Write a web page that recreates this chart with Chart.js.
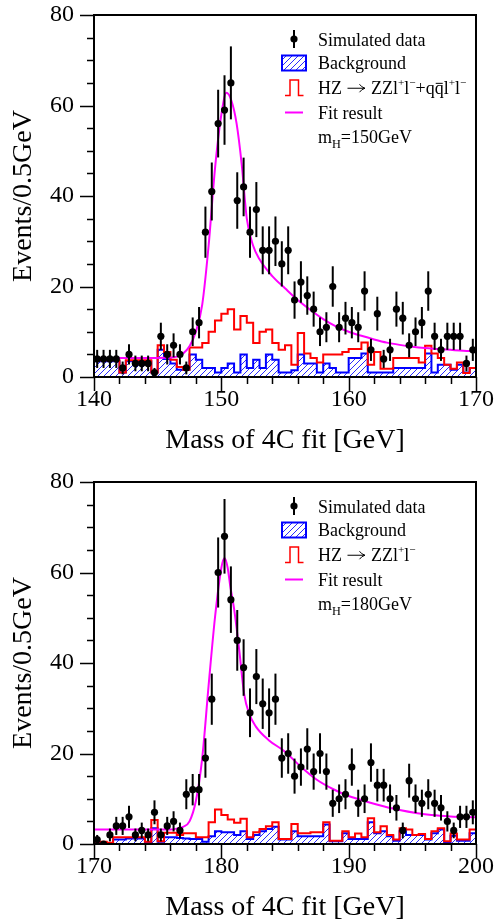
<!DOCTYPE html>
<html>
<head>
<meta charset="utf-8">
<script src="https://cdn.jsdelivr.net/npm/chart.js@4.4.1/dist/chart.umd.min.js"></script>
<style>
  body { margin: 0; background: #fff; }
  canvas { position: absolute; left: 0; }
</style>
</head>
<body>
<canvas id="chartTop" width="497" height="457" style="top:0px"></canvas>
<canvas id="chartBottom" width="497" height="457" style="top:467px"></canvas>
<script>
// bin width of both histograms (GeV)
const binWidth = 0.5;

// mH = 150 GeV panel
const range1 = [140, 170];
const data1 = [4,4,4,4,2,5,3,3,3,1,9,5,7,5,2,10,12,32,41,56,59,65,39,42,32,37,28,28,30,25,
               28,17,21,18,15,10,11,20,11,13,12,11,19,6,14,4,6,15,13,7,10,12,19,9,6,9,9,9,3,6];
const signal1 = [3.7,3.7,3.7,3.7,1,3.7,3.7,3.7,3.7,1,7,5.5,3.8,2.2,1.6,6.5,6.5,7.5,10,12.5,14,15,10.5,13.5,12,7.5,10,10.5,7.5,6,
                 7,2.7,9.7,5.2,4.2,3.2,5,5,5,5.5,6.2,6.2,7.6,2.7,5.5,1.8,1.8,4.2,4.2,4.2,4.2,3.2,6.9,5.2,4.2,2.7,1.8,3.2,0.9,2];
const bkg1 = [3.5,3.5,3.5,3.5,1,3.5,3.5,3.5,3.5,1,6,4,3,1.6,1.6,5,3.8,2,2,1,2,3,1,5,2,3.8,2,5,3.8,1,
              1,1.5,5,3,3,1,3,2,1,1,4.2,4.2,5.2,1,1,1,1,2,2,2,2,2,5.2,1,2.7,2.7,1.6,2.7,1,2];
const fitX1 = [140,145,146,146.5,147,147.5,148,148.5,149,149.5,150,150.4,150.8,151.2,151.6,152,152.5,153,154,155,
               156,157,158,159,160,161,162,163,164,165,166,167,168,169,170];
const fitY1 = [4.2,4.2,4.3,4.5,5.2,6.8,10,16,29,46,58,62.8,61,56,47,35,29,26,22.3,19.6,
               17,14.8,12.8,11.2,10,9.1,8.3,7.6,7.1,6.7,6.4,6.2,6,5.8,5.7];

// mH = 180 GeV panel
const range2 = [170, 200];
const data2 = [1,0,2,4,4,6,2,3,2,7,2,4,5,3,11,12,12,19,32,60,68,54,45,39,29,37,31,29,32,19,
               20,15,17,21,16,20,16,9,10,11,17,9,10,18,13,13,10,8,3,14,10,9,11,9,8,5,3,6,6,7];
const signal2 = [0.5,0.5,0.3,1.5,1.5,1.5,1.5,1.5,0.5,5.3,0.6,2.5,2.5,2,2.4,2.4,1.5,1.5,4.8,7.6,6.4,5.4,4.7,5.6,1.5,2.6,3.3,3.9,4.8,1.1,
                 1.1,4.4,2.4,2.4,2.6,2.6,4.8,0.7,0.7,2.8,1.5,2.3,1.5,5.7,2.6,3.9,2,1,3.5,3.2,2,2.2,1.1,2.8,3.5,0.6,2.3,1,1,3.2];
const bkg2 = [0.2,0.2,0.2,1,1,1.2,1.2,1.2,0.3,3.5,0.5,1.5,1.5,1.3,1.2,1.1,1.1,0.5,1.7,2.8,2.6,2.6,2,2.8,1.1,2,2.8,3.3,3.8,1,
              1,2.8,1.7,1.7,1.7,1.7,4.3,0.6,0.6,2.4,1.1,1.1,1.1,4.8,2.4,2.8,1.7,0.7,2.8,2,2,2,1,2.4,3.2,0.4,1.8,0.7,0.7,2.4];
const fitX2 = [170,176,176.5,177,177.5,178,178.5,179,179.5,180,180.25,180.5,180.7,181,181.4,181.8,182.2,182.7,183.7,185,
               186.2,187.5,188.8,190,191.5,192.8,194,195.4,196.5,198,200];
const fitY2 = [3.2,3.2,3.4,3.8,5,9.5,19,35,50,61,63.2,61,57,52,43,33,28.7,26,23,20.4,
               17.2,14.2,12.1,10.6,9.3,8.3,7.5,6.8,6.4,6.1,5.9];

const yRange = [0, 80];
const xTitle = 'Mass of 4C fit [GeV]';
const yTitle = 'Events/0.5GeV';

const FONT = '"Liberation Serif", "Times New Roman", serif';

function hatchPattern() {
  const c = document.createElement('canvas');
  c.width = 6; c.height = 6;
  const g = c.getContext('2d');
  g.strokeStyle = '#2a2aff';
  g.lineWidth = 1;
  g.beginPath();
  g.moveTo(0, 6); g.lineTo(6, 0);
  g.moveTo(-1, 1); g.lineTo(1, -1);
  g.moveTo(5, 7); g.lineTo(7, 5);
  g.stroke();
  return g.createPattern(c, 'repeat');
}

function stepData(lo, counts) {
  const pts = [{ x: lo, y: 0 }];
  counts.forEach((c, i) => pts.push({ x: lo + i * binWidth, y: c }));
  pts.push({ x: lo + counts.length * binWidth, y: counts[counts.length - 1] });
  return pts;
}

function richText(ctx, x, y, runs, size) {
  ctx.fillStyle = '#000';
  ctx.strokeStyle = '#000';
  ctx.textBaseline = 'alphabetic';
  ctx.textAlign = 'left';
  for (const [t, mode] of runs) {
    if (mode === 'arrow') {
      // TeX-like right arrow
      const ay = y - size * 0.32;
      ctx.lineWidth = 1;
      ctx.beginPath();
      ctx.moveTo(x + 1, ay); ctx.lineTo(x + 18, ay);
      ctx.moveTo(x + 13, ay - 4); ctx.quadraticCurveTo(x + 15, ay - 1, x + 18.5, ay);
      ctx.moveTo(x + 13, ay + 4); ctx.quadraticCurveTo(x + 15, ay + 1, x + 18.5, ay);
      ctx.stroke();
      x += 20;
      continue;
    }
    let fs = size, dy = 0;
    if (mode === 'sup') { fs = size * 0.62; dy = -size * 0.42; }
    if (mode === 'sub') { fs = size * 0.68; dy = size * 0.3; }
    ctx.font = fs + 'px ' + FONT;
    ctx.fillText(t, x, y + dy);
    const w = ctx.measureText(t).width;
    if (mode === 'bar') {
      ctx.fillRect(x + 1, y - size * 0.62, w - 2, 1);
    }
    x += w;
  }
}

function panelPlugin(counts, lo, hzRuns, massLabel) {
  return {
    id: 'panelExtras',
    afterDatasetsDraw(chart) {
      const { ctx, scales: { x, y } } = chart;
      ctx.save();
      ctx.strokeStyle = '#000';
      ctx.lineWidth = 2;
      counts.forEach((n, i) => {
        if (n <= 0) return;
        const e = Math.sqrt(n);
        const px = x.getPixelForValue(lo + (i + 0.5) * binWidth);
        ctx.beginPath();
        ctx.moveTo(px, y.getPixelForValue(n - e));
        ctx.lineTo(px, y.getPixelForValue(Math.min(n + e, yRange[1])));
        ctx.stroke();
      });
      ctx.restore();
    },
    afterDraw(chart) {
      const { ctx, chartArea: a, scales: { x, y } } = chart;
      ctx.save();
      // frame
      ctx.strokeStyle = '#000';
      ctx.lineWidth = 2;
      ctx.strokeRect(a.left, a.top, a.right - a.left, a.bottom - a.top);
      // ticks, outward
      ctx.lineWidth = 1.5;
      ctx.beginPath();
      for (let v = x.min; v <= x.max + 1e-9; v += 2) {
        const px = Math.round(x.getPixelForValue(v)) + 0.5;
        const len = (v % 10 === 0) ? 14 : 7;
        ctx.moveTo(px, a.bottom); ctx.lineTo(px, a.bottom + len);
      }
      for (let v = y.min; v <= y.max + 1e-9; v += 5) {
        const py = Math.round(y.getPixelForValue(v)) + 0.5;
        const len = (v % 20 === 0) ? 14 : 7;
        ctx.moveTo(a.left, py); ctx.lineTo(a.left - len, py);
      }
      ctx.stroke();

      // legend
      const tx = 318;
      // simulated data marker
      ctx.lineWidth = 2;
      ctx.beginPath(); ctx.moveTo(294, 30); ctx.lineTo(294, 48); ctx.stroke();
      ctx.fillStyle = '#000';
      ctx.beginPath(); ctx.arc(294, 39, 3.6, 0, Math.PI * 2); ctx.fill();
      richText(ctx, tx, 45.5, [['Simulated data', 'n']], 18);
      // background box
      ctx.fillStyle = hatchPattern();
      ctx.fillRect(282, 55.5, 24, 15);
      ctx.strokeStyle = '#0000ff';
      ctx.lineWidth = 2;
      ctx.strokeRect(282, 55.5, 24, 15);
      richText(ctx, tx, 68.5, [['Background', 'n']], 18);
      // signal step symbol
      ctx.strokeStyle = '#ff0000';
      ctx.lineWidth = 1.5;
      ctx.beginPath();
      ctx.moveTo(285, 95.5); ctx.lineTo(290, 95.5); ctx.lineTo(290, 80);
      ctx.lineTo(298.5, 80); ctx.lineTo(298.5, 95.5); ctx.lineTo(303.5, 95.5);
      ctx.stroke();
      richText(ctx, tx, 94, hzRuns, 18);
      // fit line
      ctx.strokeStyle = '#ff00ff';
      ctx.lineWidth = 2;
      ctx.beginPath(); ctx.moveTo(285, 112.5); ctx.lineTo(303, 112.5); ctx.stroke();
      richText(ctx, tx, 118.8, [['Fit result', 'n']], 18);
      richText(ctx, tx, 142.7, [['m', 'n'], ['H', 'sub'], ['=' + massLabel, 'n']], 18);
      ctx.restore();
    }
  };
}

// keep the plot area where the layout padding puts it
function noLabelPadding(s) {
  s.paddingTop = 0; s.paddingBottom = 0; s.paddingLeft = 0; s.paddingRight = 0;
}

function makePanel(id, range, counts, signal, bkg, fitX, fitY, hzRuns, massLabel) {
  const ctx = document.getElementById(id).getContext('2d');
  const lo = range[0];
  return new Chart(ctx, {
    type: 'line',
    data: {
      datasets: [
        {
          label: 'Simulated data',
          data: counts.map((n, i) => ({ x: lo + (i + 0.5) * binWidth, y: n })),
          showLine: false,
          pointRadius: 3.6,
          pointBackgroundColor: '#000',
          pointBorderWidth: 0,
        },
        {
          label: 'Fit result',
          data: fitX.map((v, i) => ({ x: v, y: fitY[i] })),
          borderColor: '#ff00ff',
          borderWidth: 2,
          pointRadius: 0,
          cubicInterpolationMode: 'monotone',
          fill: false,
        },
        {
          label: 'Signal',
          data: stepData(lo, signal),
          stepped: 'before',
          borderColor: '#ff0000',
          borderWidth: 2,
          pointRadius: 0,
          fill: false,
        },
        {
          label: 'Background',
          data: stepData(lo, bkg),
          stepped: 'before',
          borderColor: '#0000ff',
          borderWidth: 2,
          pointRadius: 0,
          fill: 'origin',
          backgroundColor: hatchPattern(),
        },
      ],
    },
    options: {
      responsive: false,
      animation: false,
      devicePixelRatio: 1,
      layout: { padding: { top: 15, right: 21, left: 0, bottom: 0 } },
      plugins: { legend: { display: false }, tooltip: { enabled: false } },
      scales: {
        x: {
          type: 'linear',
          min: range[0],
          max: range[1],
          ticks: { stepSize: 10, color: '#000', padding: 11, maxRotation: 0,
                   font: { family: FONT, size: 24, lineHeight: 1 } },
          grid: { display: false, drawTicks: false },
          border: { display: false },
          title: { display: true, text: xTitle, color: '#000',
                   font: { family: FONT, size: 28 }, padding: { top: 0, bottom: 0 } },
          afterFit: (s) => { s.height = 80; noLabelPadding(s); },
        },
        y: {
          min: yRange[0],
          max: yRange[1],
          ticks: { stepSize: 20, color: '#000', padding: 20,
                   font: { family: FONT, size: 24, lineHeight: 1 } },
          grid: { display: false, drawTicks: false },
          border: { display: false },
          title: { display: true, text: yTitle, color: '#000',
                   font: { family: FONT, size: 28 }, padding: { top: 7, bottom: 0 } },
          afterFit: (s) => { s.width = 94; noLabelPadding(s); },
        },
      },
    },
    plugins: [panelPlugin(counts, lo, hzRuns, massLabel)],
  });
}

const hzTop = [['HZ ', 'n'], ['', 'arrow'], [' ZZl', 'n'], ['+', 'sup'], ['l', 'n'], ['\u2212', 'sup'],
               ['+q', 'n'], ['q', 'bar'], ['l', 'n'], ['+', 'sup'], ['l', 'n'], ['\u2212', 'sup']];
const hzBottom = [['HZ ', 'n'], ['', 'arrow'], [' ZZl', 'n'], ['+', 'sup'], ['l', 'n'], ['\u2212', 'sup']];

makePanel('chartTop', range1, data1, signal1, bkg1, fitX1, fitY1, hzTop, '150GeV');
makePanel('chartBottom', range2, data2, signal2, bkg2, fitX2, fitY2, hzBottom, '180GeV');
</script>
</body>
</html>
